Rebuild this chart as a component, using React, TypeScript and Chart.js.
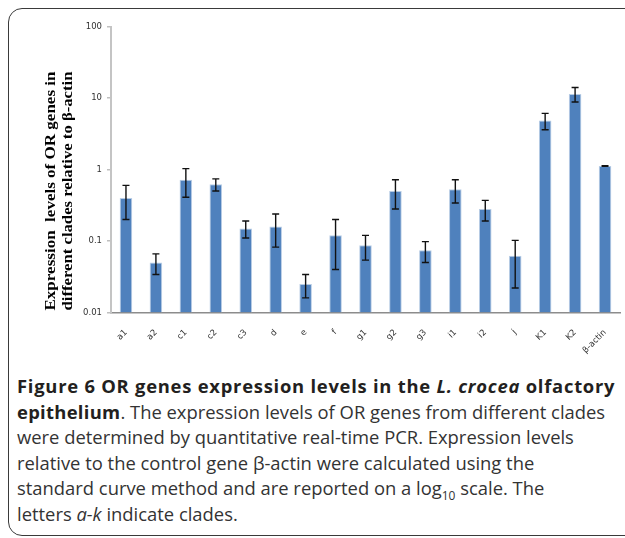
import React, { useEffect, useRef } from "react";
import { Chart, registerables } from "chart.js";

Chart.register(...registerables);

const categories = ["a1", "a2", "c1", "c2", "c3", "d", "e", "f", "g1", "g2", "g3", "i1", "i2", "j", "K1", "K2", "β-actin"];
const expression = [0.40, 0.050, 0.72, 0.62, 0.15, 0.16, 0.025, 0.12, 0.087, 0.50, 0.074, 0.53, 0.28, 0.062, 4.85, 11.4, 1.12];
const errors = [0.20, 0.016, 0.31, 0.12, 0.04, 0.078, 0.009, 0.08, 0.033, 0.22, 0.024, 0.19, 0.09, 0.04, 1.25, 2.6, 0.01];
const yTicks = [0.01, 0.1, 1, 10, 100];
const yTickLabels = ["0.01", "0.1", "1", "10", "100"];
const yTitleLines = ["Expression  levels of OR genes in", "different clades relative to β-actin"];

const errorBarPlugin = {
  id: "errorBars",
  afterDatasetsDraw(chart: any) {
    const ctx = chart.ctx;
    const xs = chart.scales.x;
    const ys = chart.scales.y;
    ctx.save();
    ctx.strokeStyle = "#111";
    ctx.lineWidth = 1.4;
    expression.forEach((v, i) => {
      const e = errors[i];
      const x = xs.getPixelForValue(i);
      const yt = ys.getPixelForValue(v + e);
      const yb = ys.getPixelForValue(Math.max(v - e, 0.0001));
      ctx.beginPath();
      ctx.moveTo(x, yt);
      ctx.lineTo(x, yb);
      ctx.moveTo(x - 3.5, yt);
      ctx.lineTo(x + 3.5, yt);
      ctx.moveTo(x - 3.5, yb);
      ctx.lineTo(x + 3.5, yb);
      ctx.stroke();
    });
    ctx.restore();
  },
};

const yTitlePlugin = {
  id: "yTitle",
  afterDraw(chart: any) {
    const ctx = chart.ctx;
    ctx.save();
    ctx.fillStyle = "#000";
    ctx.font = "bold 15px 'Liberation Serif'";
    ctx.textAlign = "center";
    ctx.textBaseline = "middle";
    const cy = 191;
    const xs = [51, 68];
    yTitleLines.forEach((line, i) => {
      ctx.save();
      ctx.translate(xs[i], cy);
      ctx.rotate(-Math.PI / 2);
      const w = ctx.measureText(line).width;
      const target = 239;
      ctx.scale(target / w, 1);
      ctx.fillText(line, 0, 0);
      ctx.restore();
    });
    ctx.restore();
  },
};

function BarChart() {
  const ref = useRef<HTMLCanvasElement>(null);
  useEffect(() => {
    if (!ref.current) return;
    const chart = new Chart(ref.current, {
      type: "bar",
      data: {
        labels: categories,
        datasets: [
          {
            data: expression,
            backgroundColor: "#4F81BD",
            borderColor: "#B9CDE5",
            borderWidth: 1,
            barPercentage: 0.42,
            categoryPercentage: 1,
          },
        ],
      },
      options: {
        animation: false,
        responsive: false,
        devicePixelRatio: 1,
        layout: { padding: { top: 26.5, right: 5, left: 0, bottom: 0 } },
        plugins: { legend: { display: false }, tooltip: { enabled: false }, title: { display: false } },
        scales: {
          x: {
            grid: { display: false },
            border: { color: "#8c8c8c", width: 1.5 },
            ticks: {
              color: "#333",
              font: { family: "'DejaVu Sans'", size: 8.5 },
              minRotation: 45,
              maxRotation: 45,
              padding: 7,
              autoSkip: false,
            },
            afterFit(scale: any) {
              scale.height = 47.5;
            },
          },
          y: {
            type: "logarithmic",
            min: 0.01,
            max: 100,
            afterBuildTicks(scale: any) {
              scale.ticks = yTicks.map((v) => ({ value: v }));
            },
            afterFit(scale: any) {
              scale.width = 111;
            },
            grid: { drawOnChartArea: false, drawTicks: true, tickLength: 4, color: "#bfbfbf", lineWidth: 1.5 },
            border: { color: "#c4c4c4", width: 2 },
            ticks: {
              color: "#333",
              font: { family: "'DejaVu Sans'", size: 8.5 },
              padding: 5,
              callback: (_v: any, i: number) => yTickLabels[i],
            },
          },
        },
      },
      plugins: [errorBarPlugin, yTitlePlugin],
    });
    return () => chart.destroy();
  }, []);
  return <canvas ref={ref} width={625} height={360} style={{ position: "absolute", left: 0, top: 0 }} />;
}

export default function App() {
  const bold: React.CSSProperties = { fontWeight: 700, color: "#231f20" };
  return (
    <div style={{ position: "fixed", inset: 0, background: "#fff", overflow: "hidden" }}>
      <div
        style={{
          position: "absolute",
          left: 8,
          top: 8,
          width: 720,
          height: 528,
          border: "1.5px solid #3a3a3a",
          borderRadius: 14,
          boxSizing: "border-box",
        }}
      />
      <BarChart />
      <div
        style={{
          position: "absolute",
          left: 17,
          top: 373,
          fontFamily: "'Open Sans'",
          fontSize: 18.4,
          lineHeight: "25.6px",
          color: "#333",
          whiteSpace: "nowrap",
        }}
      >
        <span style={{ ...bold, letterSpacing: "0.75px" }}>
          Figure 6 OR genes expression levels in the <i>L. crocea</i> olfactory
        </span>
        <br />
        <span style={{ ...bold, letterSpacing: "0.3px" }}>epithelium</span>. The expression levels of OR genes from different clades
        <br />
        were determined by quantitative real-time PCR. Expression levels
        <br />
        relative to the control gene β-actin were calculated using the
        <br />
        standard curve method and are reported on a log<sub style={{ fontSize: "0.65em", lineHeight: 0 }}>10</sub> scale. The
        <br />
        letters <i>a-k</i> indicate clades.
      </div>
    </div>
  );
}
